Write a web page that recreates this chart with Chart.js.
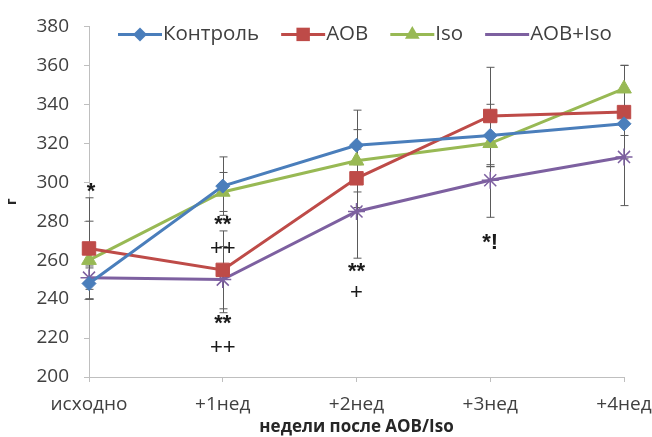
<!DOCTYPE html>
<html>
<head>
<meta charset="utf-8">
<script src="https://cdn.jsdelivr.net/npm/chart.js@4"></script>
<style>
  html, body { margin: 0; padding: 0; background: #fff; }
  #wrap { width: 652px; height: 437px; position: relative; }
</style>
</head>
<body>
<div id="wrap"><canvas id="c"></canvas></div>
<script>
// Time points and weight (г) per group
const categories = ['исходно', '+1нед', '+2нед', '+3нед', '+4нед'];
const seriesNames = ['Контроль', 'AOB', 'Iso', 'AOB+Iso'];
const control = [248, 298, 319, 324, 330];
const aob = [266, 255, 302, 334, 336];
const iso = [260, 295, 311, 320, 348];
const aobIso = [251, 250, 285, 301, 313];

// Standard deviations (error bar half-lengths)
const controlErr = [8, 15, 18, 16, 6];
const aobErr = [26, 20, 15, 25, 24];
const isoErr = [20, 10, 16, 12, 12];
const aobIsoErr = [6, 17, 24, 19, 25];

// Y axis range
const yMin = 200, yMax = 380, yStep = 20;

// Significance marks: category index, level on the value axis, text
const marks = [
  { cat: 0, value: 295, text: '*' },
  { cat: 1, value: 278, text: '**' },
  { cat: 1, value: 266, text: '++' },
  { cat: 1, value: 227, text: '**' },
  { cat: 1, value: 215, text: '++' },
  { cat: 2, value: 254, text: '**' },
  { cat: 2, value: 243, text: '+' },
  { cat: 3, value: 269, text: '*!' }
];

const FONT = '"Open Sans", sans-serif';
const errs = [controlErr, aobErr, isoErr, aobIsoErr];

const errorBars = {
  id: 'errorBars',
  beforeDatasetsDraw(chart) {
    const ctx = chart.ctx, x = chart.scales.x, y = chart.scales.y;
    ctx.save();
    ctx.strokeStyle = '#5a5a5a';
    ctx.lineWidth = 1;
    chart.data.datasets.forEach((ds, i) => {
      ds.data.forEach((v, j) => {
        const e = errs[i][j];
        const px = Math.round(x.getPixelForValue(j)) + 0.5;
        const top = y.getPixelForValue(v + e), bot = y.getPixelForValue(v - e);
        ctx.beginPath();
        ctx.moveTo(px, top); ctx.lineTo(px, bot);
        ctx.moveTo(px - 4, top); ctx.lineTo(px + 4, top);
        ctx.moveTo(px - 4, bot); ctx.lineTo(px + 4, bot);
        ctx.stroke();
      });
    });
    ctx.restore();
  }
};

const marksPlugin = {
  id: 'marks',
  afterDatasetsDraw(chart) {
    const ctx = chart.ctx, x = chart.scales.x, y = chart.scales.y;
    ctx.save();
    ctx.fillStyle = '#1a1a1a';
    ctx.textAlign = 'center';
    ctx.textBaseline = 'middle';
    marks.forEach(m => {
      // asterisks read better heavier; plus signs stay regular
      ctx.font = (m.text.includes('*') ? 'bold ' : '') + '22px "Liberation Sans", sans-serif';
      ctx.fillText(m.text, x.getPixelForValue(m.cat) + (m.cat === 0 ? 2 : 0), y.getPixelForValue(m.value));
    });
    ctx.restore();
  }
};

const legendPlugin = {
  id: 'topLegend',
  afterDraw(chart) {
    const ctx = chart.ctx, area = chart.chartArea;
    ctx.save();
    ctx.font = '20.5px ' + FONT;
    ctx.textBaseline = 'middle';
    let lx = area.left + 29;
    const ly = area.top + 8;
    chart.data.datasets.forEach((ds) => {
      const segW = 44;
      ctx.strokeStyle = ds.borderColor;
      ctx.lineWidth = 3;
      ctx.beginPath();
      ctx.moveTo(lx, ly); ctx.lineTo(lx + segW, ly);
      ctx.stroke();
      ctx.fillStyle = ds.pointBackgroundColor;
      ctx.strokeStyle = ds.pointBorderColor;
      ctx.lineWidth = ds.pointBorderWidth || 1;
      Chart.helpers.drawPoint(ctx, { pointStyle: ds.pointStyle, radius: ds.pointRadius, rotation: 0 }, lx + segW / 2, ly);
      ctx.fillStyle = '#404040';
      ctx.fillText(ds.label, lx + segW + 1, ly);
      lx += segW + 1 + ctx.measureText(ds.label).width + 22;
    });
    ctx.restore();
  }
};

function makeSet(label, data, color, style, radius) {
  return {
    label, data,
    borderColor: color, backgroundColor: color,
    pointBackgroundColor: color, pointBorderColor: color,
    pointStyle: style, pointRadius: radius, pointHoverRadius: radius,
    pointBorderWidth: style === 'star' ? 1.5 : 1,
    borderWidth: 3, tension: 0, fill: false
  };
}

new Chart(document.getElementById('c'), {
  type: 'line',
  data: {
    labels: categories,
    datasets: [
      makeSet(seriesNames[0], control, '#4a7ebb', 'rectRot', 7),
      makeSet(seriesNames[1], aob, '#be4b48', 'rect', 9.5),
      makeSet(seriesNames[2], iso, '#98b954', 'triangle', 8.5),
      makeSet(seriesNames[3], aobIso, '#7d60a0', 'star', 8.5)
    ]
  },
  plugins: [errorBars, marksPlugin, legendPlugin],
  options: {
    responsive: true,
    maintainAspectRatio: false,
    animation: false,
    layout: { padding: { top: 24, right: 2, left: 4, bottom: 0 } },
    plugins: { legend: { display: false }, tooltip: { enabled: false } },
    scales: {
      x: {
        offset: false,
        afterFit(scale) { scale.height = 60; scale.paddingRight = 28; scale.paddingLeft = 0; },
        grid: { display: true, drawOnChartArea: false, drawTicks: true, tickLength: 5, color: '#bfbfbf' },
        border: { color: '#bfbfbf', width: 1 },
        ticks: { color: '#404040', font: { family: FONT, size: 19 }, padding: 11, maxRotation: 0, autoSkip: false },
        title: { display: true, text: 'недели после AOB/Iso', color: '#262626', font: { family: FONT, size: 17, weight: 'bold' }, padding: { top: 0, bottom: 0 } }
      },
      y: {
        min: yMin, max: yMax,
        afterFit(scale) { scale.width = 85; },
        grid: { display: true, drawOnChartArea: false, drawTicks: true, tickLength: 5, color: '#bfbfbf' },
        border: { color: '#bfbfbf', width: 1 },
        ticks: { stepSize: yStep, color: '#404040', font: { family: FONT, size: 19 }, padding: 15 },
        title: { display: true, text: 'г', color: '#262626', font: { family: FONT, size: 14, weight: 'bold' }, padding: 0 }
      }
    }
  }
});
</script>
</body>
</html>
